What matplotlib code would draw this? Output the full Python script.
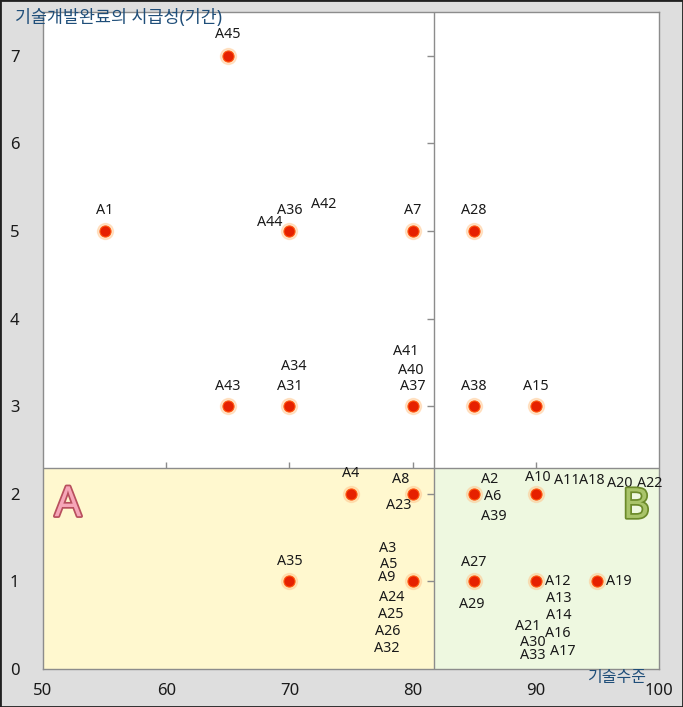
import matplotlib
matplotlib.use("Agg")
import matplotlib.pyplot as plt
import matplotlib.patheffects as pe
from matplotlib.patches import Rectangle

plt.rcParams['font.family'] = ['Noto Sans', 'Noto Sans CJK KR', 'DejaVu Sans']

# items: name, tech level (x), urgency in years (y)
names = [f"A{i}" for i in range(1, 46)]
tech_level = [55, 85, 80, 75, 80, 85, 80, 80, 80, 90,
              90, 90, 90, 90, 90, 90, 90, 90, 95, 90,
              90, 90, 80, 80, 80, 80, 85, 85, 85, 90,
              70, 80, 90, 70, 70, 70, 80, 85, 85, 80,
              80, 70, 65, 70, 65]
urgency = [5, 2, 1, 2, 1, 2, 5, 2, 1, 2,
           2, 1, 1, 1, 3, 1, 1, 2, 1, 2,
           1, 2, 2, 1, 1, 1, 1, 5, 1, 1,
           3, 1, 1, 3, 1, 5, 3, 3, 2, 3,
           3, 5, 3, 5, 7]

x_ticks = [50, 60, 70, 80, 90, 100]
y_ticks = [0, 1, 2, 3, 4, 5, 6, 7]
x_split = 81.7   # quadrant divider on tech level
y_split = 2.3    # quadrant divider on urgency

# label offsets (pixels) from each point, default is centered above
label_offset = {
    "A3": (-25, 33), "A5": (-24, 17), "A9": (-26, 4), "A24": (-21, -16),
    "A25": (-22, -33), "A26": (-25, -50), "A32": (-26, -67),
    "A2": (15, 14), "A6": (18, -3), "A39": (20, -23),
    "A8": (-12, 14), "A23": (-14, -12),
    "A10": (2, 16), "A11": (31, 13), "A18": (56, 13), "A20": (84, 10), "A22": (114, 10),
    "A12": (22, 0), "A13": (23, -17), "A14": (23, -34), "A16": (22, -52),
    "A17": (27, -70), "A21": (-8, -45), "A30": (-3, -61), "A33": (-3, -74),
    "A19": (21, 0), "A27": (0, 19), "A29": (-2, -23),
    "A34": (4, 40), "A40": (-2, 36), "A41": (-7, 55),
    "A42": (34, 26), "A44": (-20, 9), "A45": (0, 21),
}

fig = plt.figure(figsize=(6.83, 7.07), dpi=100, facecolor='#dedede')
ax = fig.add_axes([43 / 683, 1 - 669 / 707, 616 / 683, 657 / 707])
ax.set_xlim(50, 100)
ax.set_ylim(0, 7.5)

# quadrant shading
ax.fill_between([50, x_split], 0, y_split, color='#fff8cf', zorder=0, lw=0)
ax.fill_between([x_split, 100], 0, y_split, color='#eef8e0', zorder=0, lw=0)

ax.axvline(x_split, color='#8c8c8c', lw=1, zorder=1)
ax.axhline(y_split, color='#8c8c8c', lw=1, zorder=1)
# tick marks on the crossing axes
ax.plot([x_split] * 7, y_ticks[1:], ls='none', marker=0, ms=5, color='#8c8c8c', mew=1)
ax.plot(x_ticks[1:-1], [y_split] * 4, ls='none', marker=2, ms=4, color='#8c8c8c', mew=1)

for s in ax.spines.values():
    s.set_color('#8c8c8c')
    s.set_linewidth(1)

ax.set_xticks(x_ticks)
ax.set_yticks(y_ticks)
ax.tick_params(length=0, labelsize=12, colors='#1a1a1a')
ax.tick_params(axis='x', pad=10)
ax.tick_params(axis='y', pad=17)

# markers (one per distinct position)
pts = sorted(set(zip(tech_level, urgency)))
px = [p[0] for p in pts]
py = [p[1] for p in pts]
ax.plot(px, py, 'o', ms=11.5, color='#ffc890', alpha=0.45, zorder=3)
ax.plot(px, py, 'o', ms=8, mfc='#e62000', mec='#ff5a10', mew=0.8, zorder=4)

for n, x, y in zip(names, tech_level, urgency):
    dx, dy = label_offset.get(n, (0, 20))
    ax.annotate(n, (x, y), xytext=(dx, dy), textcoords='offset pixels',
                ha='center', va='center', fontsize=10.3, color='#1a1a1a', zorder=5)

# quadrant letters
ax.text(52.03, 1.87, 'A', fontsize=30, fontweight='bold', color='#f6a6b8',
        ha='center', va='center', zorder=5,
        path_effects=[pe.withStroke(linewidth=2.5, foreground='#b8505e')])
ax.text(98.13, 1.85, 'B', fontsize=30, fontweight='bold', color='#a9c46a',
        ha='center', va='center', zorder=5,
        path_effects=[pe.withStroke(linewidth=2.5, foreground='#6b8a2a')])

# axis titles
fig.text(15 / 683, 1 - 18 / 707, '기술개발완료의 시급성(기간)', fontsize=12.5,
         color='#1f4e79', ha='left', va='center')
fig.text(646 / 683, 1 - 678 / 707, '기술수준', fontsize=11.5,
         color='#1f4e79', ha='right', va='center')

fig.patches.append(Rectangle((0, 0), 1, 1, transform=fig.transFigure,
                             fill=False, edgecolor='#202020', lw=2))

fig.savefig('out.png', dpi=100, facecolor=fig.get_facecolor())
